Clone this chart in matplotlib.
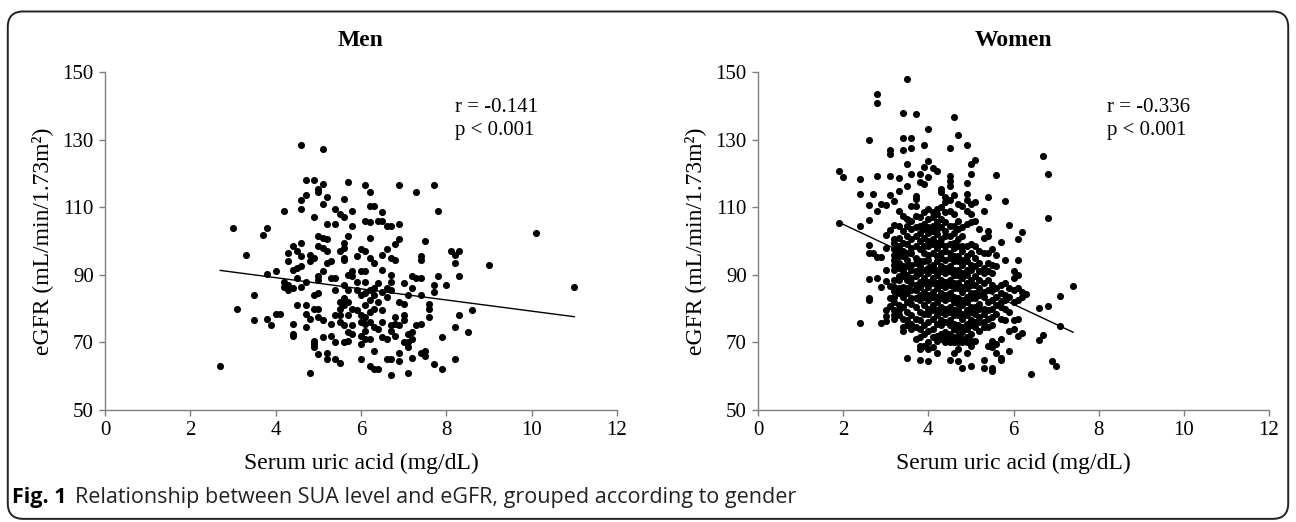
import matplotlib
matplotlib.use("Agg")
import matplotlib.pyplot as plt
from matplotlib.patches import FancyBboxPatch

# ---------------- data ----------------
x_ticks = [0, 2, 4, 6, 8, 10, 12]
y_ticks = [50, 70, 90, 110, 130, 150]

# Men: columns of (serum uric acid, [eGFR values])
men_columns = [
    (2.7, [63]), (3.0, [103.8]), (3.1, [80]), (3.3, [96]), (3.5, [84, 76.5]),
    (3.7, [101.8]), (3.8, [103.8, 90.2, 76.8]), (3.9, [75]), (4.0, [91, 78.5]),
    (4.1, [78.5]), (4.2, [108.8, 88, 86.5]), (4.3, [96.5, 94, 87, 85.5]),
    (4.4, [98.5, 91.5, 86, 75.5, 72.5, 72]), (4.5, [97, 92, 89, 81]),
    (4.6, [128.3, 112, 109.5, 99.5, 95.5, 92.5, 86.5]),
    (4.7, [118, 113.5, 88, 81, 78.5, 74.5]), (4.8, [96, 94, 77, 61]),
    (4.9, [118, 107, 95, 84, 80, 70.5, 69.5, 68.5]),
    (5.0, [115.5, 114.5, 101.5, 98.5, 89.5, 88.5, 84.5, 80, 77.5, 66.5]),
    (5.1, [127.3, 117, 111, 101, 98, 91, 76.5, 71.5]),
    (5.2, [113, 105, 100.5, 97, 93.5, 67, 65]),
    (5.3, [94, 89, 75.5, 72]),
    (5.4, [109.5, 105, 89, 85.5, 78, 70, 65]),
    (5.5, [108, 97, 82, 80, 78, 76, 64]),
    (5.6, [112.5, 107, 99.5, 98, 95, 94.5, 87, 83, 81, 75, 70]),
    (5.7, [117.5, 101.5, 90, 85.5, 82, 78, 73, 70.5]),
    (5.8, [109, 104.5, 91, 89.5, 80, 75, 72.5]),
    (5.9, [95.5, 88, 85.5, 79.5]),
    (6.0, [97.5, 91, 84, 78, 76, 72, 69.5, 65]),
    (6.1, [116.5, 106, 97, 91, 88, 84.5, 81, 77.5, 75.5, 73.5, 71]),
    (6.2, [114.5, 110.5, 105.5, 101, 95, 85.5, 82.5, 79, 76, 71, 63]),
    (6.3, [110.5, 93.5, 86, 84, 80, 74.5, 67.5, 62]),
    (6.4, [106, 87.5, 82, 74, 62]),
    (6.5, [108.5, 106, 96, 91.5, 85, 79.5, 76, 71.5]),
    (6.6, [104.5, 97.5, 86, 83.5, 71, 65]),
    (6.7, [104.5, 95, 90, 88, 85.5, 75, 73.5, 65, 60.5]),
    (6.8, [99, 94.5, 77.5, 75.5, 72]),
    (6.9, [116.5, 105, 100.5, 82, 75, 67, 64.5]),
    (7.0, [87.5, 81.5, 78, 76.5, 70]),
    (7.1, [84, 72.5, 70, 68.5, 61]),
    (7.2, [89.5, 86, 73, 71, 65.5]),
    (7.3, [114.5, 89, 75]),
    (7.4, [95.5, 94.5, 89, 84, 75.5, 67]),
    (7.5, [100, 67.5, 66]),
    (7.6, [81.5, 80, 77.5]),
    (7.7, [116.5, 87, 85, 63.5]),
    (7.8, [109, 89.5]),
    (7.9, [71.5, 62]),
    (8.0, [87]), (8.1, [97]), (8.2, [96, 93.5, 74.5, 65]),
    (8.3, [97, 89.5, 78]), (8.5, [73]), (8.6, [79.5]), (9.0, [93]),
    (10.1, [102.5]), (11.0, [86.5]),
]

# Women: columns of (serum uric acid, [eGFR values])
women_columns = [
    (1.9, [120.7, 105.4]), (2.0, [118.9]),
    (2.4, [118.2, 113.8, 104.3, 75.8]),
    (2.6, [130, 110.6, 106.3, 98.7, 96.5, 88.9, 83.2, 82.5]),
    (2.7, [113.8, 96.5]),
    (2.8, [143.4, 140.9, 119.2, 109.0, 95.2, 89.2]),
    (2.9, [111.0, 95.2, 86.4, 75.8]),
    (3.0, [110.6, 101.9, 98.0, 91.3, 88.1, 79.7, 77.7, 76.3]),
    (3.1, [126.9, 125.6, 119.2, 113.5, 103.4, 86.6, 83.2, 80.7]),
    (3.2, [111.8, 104.7, 100.5, 99.3, 97.5, 96.0, 94.5, 93.0, 91.5, 88.5, 86.5, 85.1, 83.5, 82.0,
           79.5, 78.2, 77.0]),
    (3.3, [118.7, 114.9, 108.8, 104.5, 101.0, 98.5, 96.9, 95.5, 93.5, 92.0, 89.5, 88.5, 86.0, 84.5,
           81.0, 79.5, 78.2]),
    (3.4, [138.0, 130.6, 127.0, 107.5, 103.0, 99.5, 97.0, 95.5, 92.5, 91.0, 89.5, 86.5, 85.0, 83.5,
           80.5, 77.0, 74.5, 73.3]),
    (3.5, [148.0, 122.9, 116.2, 106.5, 104.5, 101.5, 99.0, 96.5, 94.5, 92.5, 90.0, 88.5, 86.0, 84.5,
           82.0, 79.0, 76.5, 75.0, 65.4]),
    (3.6, [130.6, 127.6, 119.7, 110.5, 106.0, 103.5, 100.5, 98.0, 96.5, 93.0, 91.5, 89.0, 87.5, 85.5,
           83.0, 81.5, 78.0, 75.5, 74.0]),
    (3.7, [137.7, 113.3, 112.5, 110.5, 107.5, 104.0, 101.5, 98.5, 95.0, 93.5, 91.0, 89.5, 87.0, 85.5,
           83.0, 80.5, 77.0, 74.5, 71.0]),
    (3.8, [119.7, 117.5, 107.0, 104.5, 102.5, 100.0, 97.5, 94.0, 92.5, 90.5, 88.0, 86.5, 84.0, 82.5,
           79.0, 76.5, 74.0, 71.5, 69.0, 68.0, 64.9]),
    (3.9, [128.3, 121.9, 117.0, 108.5, 105.0, 103.5, 101.0, 98.5, 96.5, 94.0, 91.5, 89.0, 87.5, 85.0,
           83.5, 81.0, 78.5, 75.0, 72.5, 69.0]),
    (4.0, [133.0, 123.6, 119.0, 109.5, 106.5, 104.0, 102.5, 100.0, 98.5, 96.0, 94.5, 92.0, 90.5, 88.0,
           86.5, 84.0, 82.5, 80.0, 78.5, 76.0, 73.5, 70.0, 68.0, 64.4]),
    (4.1, [121.7, 108.5, 107.0, 104.5, 103.0, 100.5, 99.0, 96.5, 93.0, 91.5, 89.0, 87.5, 85.0, 83.5,
           81.0, 79.5, 77.0, 74.0, 71.5, 68.5]),
    (4.2, [120.7, 109.5, 108.0, 105.5, 103.5, 102.0, 99.5, 98.0, 95.5, 94.0, 91.5, 90.0, 87.5, 86.0,
           83.5, 82.0, 79.5, 78.0, 75.5, 72.0, 70.5, 67.0]),
    (4.3, [115.5, 114.5, 110.0, 106.5, 104.0, 100.5, 99.0, 96.5, 95.0, 92.5, 91.0, 88.5, 87.0, 84.5,
           83.0, 80.5, 79.0, 76.5, 75.0, 72.5, 71.0]),
    (4.4, [113.0, 111.5, 108.5, 105.5, 103.0, 101.5, 98.5, 97.0, 94.5, 92.0, 90.5, 88.0, 86.5, 84.0,
           82.5, 80.0, 78.5, 76.0, 73.0, 71.5, 70.0]),
    (4.5, [127.6, 119.2, 117.7, 116.2, 112.0, 109.0, 104.5, 101.5, 99.0, 96.5, 95.0, 92.5, 91.0, 88.5,
           87.0, 84.5, 83.0, 80.5, 79.0, 76.5, 75.0, 72.5, 71.0, 70.0, 64.9]),
    (4.6, [136.7, 113.5, 108.0, 104.5, 102.5, 99.5, 98.0, 95.5, 94.0, 91.5, 90.0, 87.5, 86.0, 83.5,
           82.0, 79.5, 78.0, 75.5, 74.0, 71.5, 70.0, 67.0]),
    (4.7, [131.5, 111.0, 106.0, 103.5, 100.5, 98.5, 95.5, 94.0, 91.5, 90.0, 87.5, 86.0, 83.0, 81.5,
           79.5, 78.0, 75.0, 73.5, 71.5, 70.0, 68.0, 64.4]),
    (4.8, [110.5, 104.0, 101.5, 98.5, 97.0, 94.5, 93.0, 90.5, 89.0, 86.5, 85.0, 82.5, 81.0, 78.5,
           77.0, 74.5, 73.0, 71.0, 70.0, 62.4]),
    (4.9, [128.4, 117.2, 113.8, 112.0, 109.0, 105.0, 98.5, 95.5, 94.0, 91.5, 90.0, 87.5, 86.0, 83.5,
           82.0, 79.5, 78.0, 75.5, 74.0, 71.5, 70.0, 66.9]),
    (5.0, [122.7, 119.7, 111.0, 108.0, 105.5, 99.0, 96.5, 93.0, 91.5, 88.5, 87.0, 84.5, 83.0, 80.5,
           79.0, 76.5, 75.0, 72.5, 70.5, 69.0, 62.9]),
    (5.1, [123.9, 111.5, 106.0, 98.5, 95.0, 92.5, 89.5, 87.0, 84.5, 83.0, 80.5, 78.5, 76.0, 74.5,
           70.5]),
    (5.2, [103.5, 97.0, 93.5, 91.0, 88.5, 86.0, 84.0, 81.5, 80.0, 77.5, 76.0, 73.5]),
    (5.3, [108.8, 101.0, 96.5, 92.0, 90.5, 87.5, 85.0, 83.5, 80.0, 78.5, 76.0, 74.5, 64.9, 62.4]),
    (5.4, [113.0, 102.9, 101.5, 96.5, 93.5, 91.0, 88.5, 85.5, 82.0, 79.5, 77.0, 74.5, 69.0]),
    (5.5, [97.5, 93.0, 90.5, 87.0, 85.5, 82.5, 80.0, 77.5, 75.0, 70.5, 68.5, 62.4, 61.6]),
    (5.6, [119.4, 96.0, 92.5, 86.0, 83.5, 81.0, 78.5, 69.5, 67.0]),
    (5.7, [99.7, 87.0, 84.5, 82.0, 80.5, 77.0, 71.0, 65.5, 64.9]),
    (5.8, [111.8, 94.5, 87.5, 84.0, 82.5, 80.0, 76.5]),
    (5.9, [104.6, 86.0, 83.5, 79.0, 73.5, 67.4]),
    (6.0, [91.0, 89.1, 85.5, 82.0, 76.5, 74.0]),
    (6.1, [100.7, 94.5, 90.0, 86.0, 82.5, 77.0, 71.8]),
    (6.2, [102.7, 85.0, 83.5, 72.8]),
    (6.3, [84.4]), (6.4, [60.7]),
    (6.6, [80.2, 70.8]),
    (6.7, [125.1, 72.3]),
    (6.8, [119.7, 106.9, 80.7]),
    (6.9, [64.6]), (7.0, [62.9]),
    (7.1, [83.7, 74.8]),
    (7.4, [86.6]),
]

men_fit_x = [2.7, 11.0]
men_fit_y = [91.3, 77.6]
women_fit_x = [1.92, 7.4]
women_fit_y = [105.4, 73.0]

men_stats = ["r = -0.141", "p < 0.001"]
women_stats = ["r = -0.336", "p < 0.001"]


def flatten(columns):
    xs, ys = [], []
    for xv, yl in columns:
        for yv in yl:
            xs.append(xv)
            ys.append(yv)
    return xs, ys


men_x, men_y = flatten(men_columns)
women_x, women_y = flatten(women_columns)

# ---------------- figure ----------------
SERIF = ["Liberation Serif", "DejaVu Serif"]
SANS = ["Open Sans", "DejaVu Sans"]
fig = plt.figure(figsize=(12.96, 5.22), dpi=100)

border = FancyBboxPatch((0.006, 0.006), 0.988, 0.972,
                        boxstyle="round,pad=0,rounding_size=0.012",
                        transform=fig.transFigure, facecolor="none",
                        edgecolor="#222222", linewidth=1.4, mutation_aspect=2.48)
fig.patches.append(border)

W, H = 1296.0, 522.0
panels = [
    ("Men", men_x, men_y, men_fit_x, men_fit_y, men_stats, 105, 617),
    ("Women", women_x, women_y, women_fit_x, women_fit_y, women_stats, 758, 1269),
]
for title, xs, ys, fx, fy, stats, x0, x1 in panels:
    ax = fig.add_axes([x0 / W, 1 - 410 / H, (x1 - x0) / W, (410 - 72) / H])
    ax.scatter(xs, ys, s=26, color="black", linewidths=0, zorder=3)
    ax.plot(fx, fy, color="black", lw=1.0, zorder=2)
    ax.set_xlim(0, 12)
    ax.set_ylim(50, 150)
    ax.set_xticks(x_ticks)
    ax.set_yticks(y_ticks)
    for s in ("top", "right"):
        ax.spines[s].set_visible(False)
    for s in ("left", "bottom"):
        ax.spines[s].set_color("#7f7f7f")
        ax.spines[s].set_linewidth(1.0)
    ax.tick_params(direction="out", length=4, width=1.0, color="#7f7f7f",
                   labelsize=15, pad=4)
    for lab in ax.get_xticklabels() + ax.get_yticklabels():
        lab.set_family(SERIF)
    ax.set_xlabel("Serum uric acid (mg/dL)", family=SERIF, fontsize=17, labelpad=9)
    ax.set_ylabel("eGFR (mL/min/1.73m²)", family=SERIF, fontsize=17, labelpad=7)
    ax.set_title(title, family=SERIF, fontsize=17, fontweight="bold", pad=19)
    ax.text(8.2, 139.6, stats[0], family=SERIF, fontsize=15, va="center", ha="left")
    ax.text(8.2, 132.8, stats[1], family=SERIF, fontsize=15, va="center", ha="left")

fig.text(12 / W, 1 - 497 / H, "Fig. 1", family=SANS,
         fontsize=15.5, fontweight="bold", va="center", ha="left")
fig.text(75 / W, 1 - 497 / H,
         "Relationship between SUA level and eGFR, grouped according to gender",
         family=SANS, fontsize=15.5, va="center", ha="left", color="#222222")

fig.savefig("out.png", dpi=100)
